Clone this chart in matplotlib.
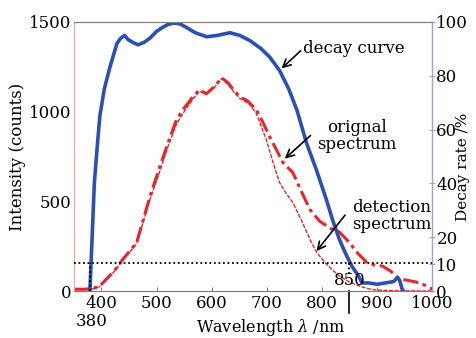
import numpy as np
import matplotlib
matplotlib.use("Agg")
import matplotlib.pyplot as plt

plt.rcParams['font.family'] = ['DejaVu Serif']
plt.rcParams['mathtext.fontset'] = 'dejavuserif'

# decay curve (%), right axis
decay_wl = [379, 383, 387, 392, 397, 405, 415, 428, 435, 442, 448, 456, 466, 478, 488,
            500, 511, 520, 530, 542, 554, 570, 591, 610, 633, 651, 670, 690, 705, 723,
            740, 755, 772, 790, 808, 820, 832, 845, 855, 865, 873, 885, 900, 915, 930,
            937, 941, 945, 948]
decay = [0, 20, 40, 53, 65, 75, 83, 92, 94, 95, 93.5, 92.5, 91.5, 92.5, 94,
         96.5, 98, 99, 99.6, 99.3, 98, 96, 94.5, 95, 96, 95, 93, 90, 87, 82,
         75, 67, 55, 45, 34, 26, 19, 13, 9, 6, 3, 3, 2.5, 3, 3.5,
         5, 4, 1, 0]

# original spectrum (counts)
orig_wl = [350, 370, 385, 397, 410, 425, 439, 452, 464, 476, 488, 506, 520, 536, 550,
           566, 578, 590, 605, 618, 630, 640, 651, 665, 681, 693, 705, 717, 729, 747,
           762, 778, 796, 815, 832, 850, 865, 881, 895, 910, 925, 941, 955, 971, 985, 1000]
orig = [10, 10, 15, 28, 70, 120, 178, 225, 272, 400, 528, 694, 820, 955, 1020,
        1083, 1122, 1100, 1140, 1189, 1160, 1120, 1083, 1060, 1011, 940, 861, 790, 717, 661,
        560, 455, 389, 350, 328, 270, 210, 161, 145, 139, 110, 67, 60, 50, 35, 11]

# detection spectrum (counts)
det_wl = [350, 370, 385, 397, 410, 425, 439, 452, 464, 476, 488, 506, 520, 536, 550,
          566, 578, 590, 605, 618, 630, 640, 651, 669, 681, 699, 711, 723, 735, 747,
          762, 778, 790, 805, 820, 832, 850, 868, 885, 900, 930, 1000]
det = [8, 8, 12, 25, 65, 115, 172, 220, 265, 390, 510, 670, 800, 930, 1000,
       1070, 1115, 1095, 1135, 1185, 1150, 1110, 1075, 1040, 990, 844, 720, 605, 545, 494,
       400, 289, 217, 160, 115, 83, 50, 28, 12, 5, 2, 0]

xticks = [400, 500, 600, 700, 800, 900, 1000]
yticks_left = [0, 500, 1000, 1500]
yticks_right = [0, 10, 20, 40, 60, 80, 100]

red = '#e8252c'
blue = '#2a4fb5'

fig = plt.figure(figsize=(4.77, 3.38), dpi=100)
ax = fig.add_axes([0.155, 0.139, 0.751, 0.796])
ax2 = ax.twinx()

ax.plot(orig_wl, orig, color=red, lw=2.2, linestyle=(0, (5, 1.5, 1.2, 1.5)))
ax.plot(det_wl, det, color=red, lw=1.0, linestyle=(0, (3, 1)))
ax2.plot(decay_wl, decay, color=blue, lw=2.6)

ax.set_xlim(350, 1000)
ax.set_ylim(0, 1500)
ax2.set_ylim(0, 100)
ax.set_xticks(xticks)
ax.set_yticks(yticks_left)
ax2.set_yticks(yticks_right)

ax.tick_params(axis='x', direction='in', length=3, color='gray', labelsize=12, pad=3)
ax.tick_params(axis='y', length=0, labelsize=12, pad=2)
ax2.tick_params(axis='y', direction='inout', length=4, color='#9aa6e0', labelsize=12, pad=1)

ax.spines['left'].set_color('#f4a0a0')
ax.spines['top'].set_color('gray')
ax.spines['bottom'].set_color('gray')
ax2.spines['left'].set_visible(False)
ax2.spines['top'].set_color('gray')
ax2.spines['bottom'].set_color('gray')
ax2.spines['right'].set_color('#9aa6e0')

ax.set_xlabel('Wavelength $\\lambda$ /nm', fontsize=11.5, labelpad=0)
ax.xaxis.set_label_coords(0.55, -0.095)
ax.set_ylabel('Intensity (counts)', fontsize=12, labelpad=2)
ax2.set_ylabel('Decay rate /%', fontsize=11)
ax2.yaxis.set_label_coords(1.066, 0.46)

# threshold line and markers
ax2.axhline(10.5, color='black', lw=1.3, linestyle=(0, (1, 1.5)))
ax2.plot([380, 380], [0, 10.5], color='black', lw=1.3, linestyle=(0, (1, 1.5)))
ax2.plot([850, 850], [10.5, 5.5], color='black', lw=1.3, linestyle=(0, (1, 1.5)))
ax2.plot([850, 850], [0, -8], color='black', lw=1.2, clip_on=False)
ax2.text(850, 3.8, '850', fontsize=12, ha='center', va='center')
ax2.text(383, -11.5, '380', fontsize=12, ha='center', va='center')

arrow = dict(arrowstyle='->', color='black', lw=1.2, mutation_scale=14)
ax2.annotate('', xy=(723, 82), xytext=(765, 90), arrowprops=arrow)
ax2.text(766, 90, 'decay curve', fontsize=12, ha='left', va='center')
ax2.annotate('', xy=(729, 48.5), xytext=(783, 58.5), arrowprops=arrow)
ax2.text(863, 57.5, 'orignal\nspectrum', fontsize=12, ha='center', va='center', linespacing=1.0)
ax2.annotate('', xy=(787, 14), xytext=(845, 29), arrowprops=arrow)
ax2.text(926, 28, 'detection\nspectrum', fontsize=12, ha='center', va='center', linespacing=1.0)

fig.savefig('out.png', dpi=100)
